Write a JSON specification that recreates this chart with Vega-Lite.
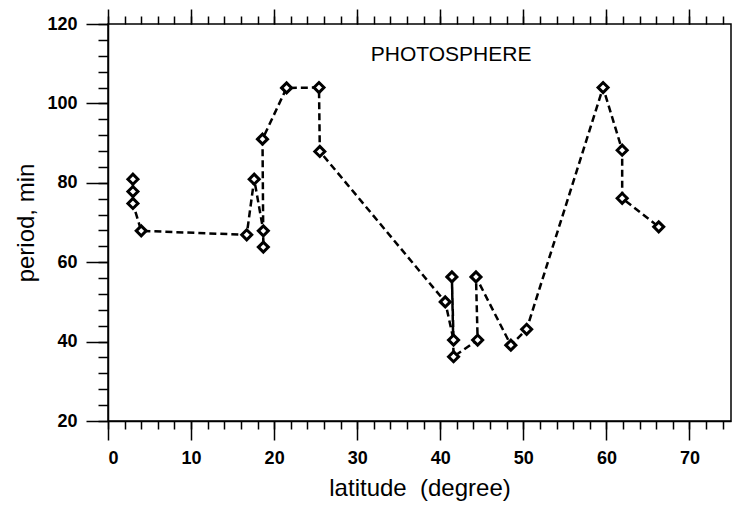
{
  "$schema": "https://vega.github.io/schema/vega-lite/v6.json",
  "width": 623,
  "height": 397,
  "autosize": {"type": "none"},
  "padding": {"left": 108, "top": 24, "right": 1, "bottom": 88},
  "background": "white",
  "config": {
    "view": {"stroke": "black", "strokeWidth": 1.5},
    "font": "Liberation Sans",
    "axis": {
      "grid": false,
      "domainColor": "black",
      "domainWidth": 1.5,
      "tickColor": "black",
      "tickWidth": 1.5,
      "labelColor": "black",
      "titleColor": "black",
      "labelFont": "Liberation Sans",
      "titleFont": "Liberation Sans",
      "labelFontSize": 18,
      "labelFontWeight": "bold",
      "titleFontSize": 24,
      "titleFontWeight": "normal"
    }
  },
  "datasets": {
    "obs": [
      {"i": 1, "lat": 3.0, "period": 80.9},
      {"i": 2, "lat": 3.0, "period": 77.8},
      {"i": 3, "lat": 3.0, "period": 74.8},
      {"i": 4, "lat": 4.0, "period": 67.9},
      {"i": 5, "lat": 16.7, "period": 66.9},
      {"i": 6, "lat": 17.6, "period": 80.9},
      {"i": 7, "lat": 18.7, "period": 67.9},
      {"i": 8, "lat": 18.7, "period": 63.8},
      {"i": 9, "lat": 18.6, "period": 91.0},
      {"i": 10, "lat": 21.5, "period": 103.9},
      {"i": 11, "lat": 25.4, "period": 104.0},
      {"i": 12, "lat": 25.5, "period": 87.9},
      {"i": 13, "lat": 40.6, "period": 50.0},
      {"i": 14, "lat": 41.6, "period": 40.4},
      {"i": 15, "lat": 41.4, "period": 56.3},
      {"i": 16, "lat": 41.6, "period": 36.2},
      {"i": 17, "lat": 44.5, "period": 40.4},
      {"i": 18, "lat": 44.3, "period": 56.3},
      {"i": 19, "lat": 48.5, "period": 39.1},
      {"i": 20, "lat": 50.4, "period": 43.1},
      {"i": 21, "lat": 59.6, "period": 104.0},
      {"i": 22, "lat": 61.9, "period": 88.2},
      {"i": 23, "lat": 61.9, "period": 76.1},
      {"i": 24, "lat": 66.3, "period": 68.9}
    ],
    "label": [
      {"lat": 41.3, "period": 112.1, "text": "PHOTOSPHERE"}
    ]
  },
  "layer": [
    {
      "data": {"name": "obs"},
      "mark": {"type": "line", "color": "black", "strokeWidth": 2.5, "strokeDash": [7, 4]},
      "encoding": {
        "x": {
          "field": "lat", "type": "quantitative",
          "scale": {"domain": [0, 75], "nice": false, "zero": false},
          "axis": {
            "orient": "bottom",
            "values": [0, 10, 20, 30, 40, 50, 60, 70],
            "tickSize": 19,
            "labelPadding": 9,
            "title": "latitude\u00a0 (degree)",
            "titlePadding": 9
          }
        },
        "y": {
          "field": "period", "type": "quantitative",
          "scale": {"domain": [20, 120], "nice": false, "zero": false},
          "axis": {
            "orient": "left",
            "values": [20, 40, 60, 80, 100, 120],
            "tickSize": 22,
            "labelPadding": 9,
            "title": "period, min",
            "titlePadding": 8
          }
        },
        "order": {"field": "i", "type": "quantitative"}
      }
    },
    {
      "data": {"name": "obs"},
      "mark": {"type": "point", "shape": "diamond", "filled": true, "fill": "white", "stroke": "black", "strokeWidth": 3, "size": 100, "opacity": 1},
      "encoding": {
        "x": {
          "field": "lat", "type": "quantitative",
          "axis": {
            "orient": "bottom",
            "values": [0,2,4,6,8,10,12,14,16,18,20,22,24,26,28,30,32,34,36,38,40,42,44,46,48,50,52,54,56,58,60,62,64,66,68,70,72,74],
            "tickSize": 8,
            "labels": false,
            "domain": false,
            "title": null
          }
        },
        "y": {
          "field": "period", "type": "quantitative",
          "axis": {
            "orient": "left",
            "values": [20,24,28,32,36,40,44,48,52,56,60,64,68,72,76,80,84,88,92,96,100,104,108,112,116,120],
            "tickSize": 10,
            "labels": false,
            "domain": false,
            "title": null
          }
        }
      }
    },
    {
      "data": {"name": "label"},
      "mark": {"type": "text", "font": "Liberation Sans", "fontSize": 21, "color": "black", "align": "center", "baseline": "middle"},
      "encoding": {
        "x": {
          "field": "lat", "type": "quantitative",
          "axis": {
            "orient": "top",
            "values": [0, 10, 20, 30, 40, 50, 60, 70],
            "tickSize": 15,
            "labels": false,
            "domain": false,
            "title": null
          }
        },
        "y": {"field": "period", "type": "quantitative", "axis": null},
        "text": {"field": "text"}
      }
    },
    {
      "data": {"name": "obs"},
      "mark": {"type": "point", "opacity": 0},
      "encoding": {
        "x": {
          "field": "lat", "type": "quantitative",
          "axis": {
            "orient": "top",
            "values": [0,2,4,6,8,10,12,14,16,18,20,22,24,26,28,30,32,34,36,38,40,42,44,46,48,50,52,54,56,58,60,62,64,66,68,70,72,74],
            "tickSize": 8,
            "labels": false,
            "domain": false,
            "title": null
          }
        },
        "y": {"field": "period", "type": "quantitative", "axis": null}
      }
    }
  ],
  "resolve": {"axis": {"x": "independent", "y": "independent"}}
}
